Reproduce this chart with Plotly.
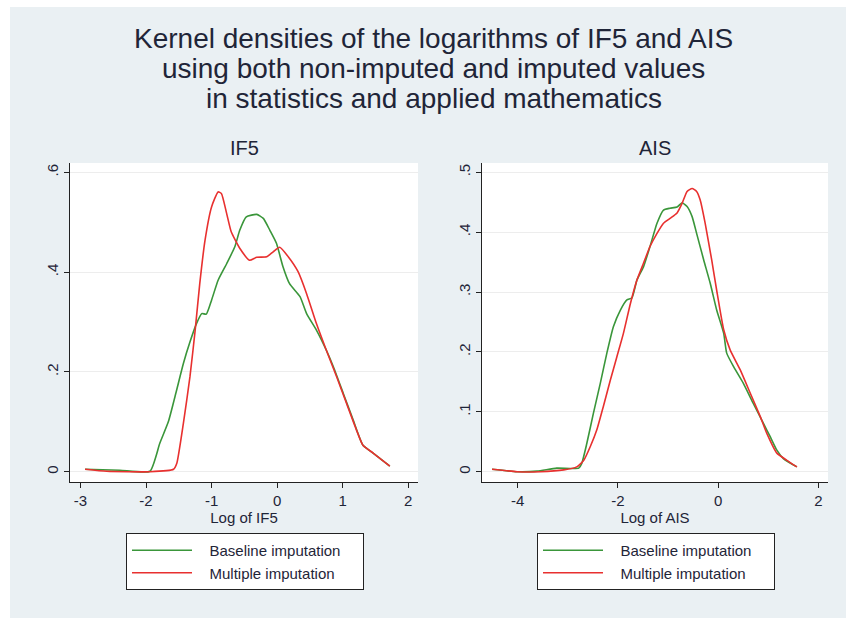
import plotly.graph_objects as go

W, H = 846, 618

# ---------------- data ----------------
if5_base_x = [-2.93, -2.40, -1.94, -1.79, -1.66, -1.54, -1.43, -1.33, -1.23, -1.15, -1.08, -1.00,
              -0.90, -0.77, -0.645, -0.57, -0.47, -0.31, -0.21, -0.11, -0.01, 0.09, 0.19, 0.35,
              0.45, 0.60, 0.75, 0.86, 1.01, 1.16, 1.31, 1.47, 1.72]
if5_base_y = [0.005, 0.003, 0.001, 0.057, 0.100, 0.160, 0.217, 0.260, 0.297, 0.317, 0.316, 0.344,
              0.384, 0.417, 0.451, 0.484, 0.511, 0.516, 0.508, 0.484, 0.458, 0.411, 0.377, 0.351,
              0.317, 0.284, 0.244, 0.210, 0.157, 0.104, 0.053, 0.037, 0.011]

if5_multi_x = [-2.93, -2.60, -1.94, -1.58, -1.53, -1.43, -1.33, -1.25, -1.18, -1.10, -1.00, -0.90,
               -0.85, -0.77, -0.70, -0.57, -0.42, -0.31, -0.16, -0.06, 0.04, 0.17, 0.32, 0.45,
               0.60, 0.75, 0.91, 1.06, 1.21, 1.31, 1.47, 1.72]
if5_multi_y = [0.005, 0.001, 0.000, 0.005, 0.017, 0.097, 0.190, 0.284, 0.377, 0.464, 0.531, 0.561,
               0.558, 0.518, 0.481, 0.448, 0.424, 0.430, 0.431, 0.441, 0.450, 0.431, 0.401, 0.357,
               0.297, 0.244, 0.190, 0.137, 0.084, 0.053, 0.037, 0.011]

ais_base_x = [-4.51, -4.01, -3.61, -3.22, -2.78, -2.72, -2.62, -2.49, -2.35, -2.22, -2.09, -1.95,
              -1.82, -1.72, -1.62, -1.49, -1.36, -1.22, -1.09, -0.96, -0.82, -0.72, -0.62, -0.52,
              -0.43, -0.29, -0.16, -0.03, 0.11, 0.17, 0.31, 0.50, 0.70, 0.90, 1.04, 1.17, 1.30, 1.57]
ais_base_y = [0.004, 0.000, 0.001, 0.006, 0.006, 0.014, 0.047, 0.097, 0.148, 0.198, 0.242, 0.270,
              0.287, 0.290, 0.320, 0.342, 0.376, 0.415, 0.437, 0.440, 0.442, 0.449, 0.443, 0.426,
              0.398, 0.354, 0.315, 0.270, 0.231, 0.198, 0.175, 0.148, 0.114, 0.081, 0.058, 0.036,
              0.022, 0.008]

ais_multi_x = [-4.51, -4.01, -3.55, -3.08, -2.82, -2.68, -2.55, -2.42, -2.29, -2.15, -2.02, -1.89,
               -1.75, -1.62, -1.49, -1.36, -1.22, -1.09, -0.96, -0.82, -0.72, -0.62, -0.52, -0.43,
               -0.36, -0.26, -0.13, -0.03, 0.11, 0.24, 0.44, 0.64, 0.84, 0.97, 1.17, 1.37, 1.57]
ais_multi_y = [0.004, 0.000, 0.000, 0.003, 0.008, 0.019, 0.042, 0.070, 0.109, 0.153, 0.192, 0.231,
               0.281, 0.320, 0.348, 0.376, 0.398, 0.415, 0.423, 0.432, 0.448, 0.468, 0.473, 0.468,
               0.454, 0.415, 0.354, 0.303, 0.237, 0.203, 0.170, 0.131, 0.092, 0.064, 0.031, 0.019,
               0.008]

if5_xticks = [-3, -2, -1, 0, 1, 2]
if5_xtext = ["-3", "-2", "-1", "0", "1", "2"]
if5_yticks = [0, 0.2, 0.4, 0.6]
if5_ytext = ["0", ".2", ".4", ".6"]
ais_xticks = [-4, -2, 0, 2]
ais_xtext = ["-4", "-2", "0", "2"]
ais_yticks = [0, 0.1, 0.2, 0.3, 0.4, 0.5]
ais_ytext = ["0", ".1", ".2", ".3", ".4", ".5"]

series_names = ["Baseline imputation", "Multiple imputation"]
title_lines = ["Kernel densities of the logarithms of IF5 and AIS",
               "using both non-imputed and imputed values",
               "in statistics and applied mathematics"]
panel_titles = ["IF5", "AIS"]
axis_titles = ["Log of IF5", "Log of AIS"]

# ---------------- style ----------------
GREEN = "#3a963a"
RED = "#e8302f"
BG = "#eaf0f3"
TXT = "#1f2538"
FONT = "Liberation Sans, Arial, sans-serif"


def px_x(p):
    return p / W


def px_y(p):
    return 1 - p / H


fig = go.Figure()

lead = "\u00a0" * 3
pad = "\u00a0" * 4
line_common = dict(width=1.6, shape="spline", smoothing=0.5)
fig.add_trace(go.Scatter(x=if5_base_x, y=if5_base_y, mode="lines", name=lead + series_names[0] + pad,
                         line=dict(color=GREEN, **line_common), xaxis="x", yaxis="y", legend="legend"))
fig.add_trace(go.Scatter(x=if5_multi_x, y=if5_multi_y, mode="lines", name=lead + series_names[1] + pad,
                         line=dict(color=RED, **line_common), xaxis="x", yaxis="y", legend="legend"))
fig.add_trace(go.Scatter(x=ais_base_x, y=ais_base_y, mode="lines", name=lead + series_names[0] + pad,
                         line=dict(color=GREEN, **line_common), xaxis="x2", yaxis="y2", legend="legend2"))
fig.add_trace(go.Scatter(x=ais_multi_x, y=ais_multi_y, mode="lines", name=lead + series_names[1] + pad,
                         line=dict(color=RED, **line_common), xaxis="x2", yaxis="y2", legend="legend2"))

axis_common = dict(showline=True, linecolor="#222222", linewidth=1.4, ticks="outside",
                   ticklen=5, tickcolor="#222222", tickfont=dict(size=15, color=TXT, family=FONT),
                   zeroline=False)

ydom = [px_y(482), px_y(163)]
annotations = []
for t, yc in zip(title_lines, [39, 68.5, 98]):
    annotations.append(dict(text=t, x=px_x(434), y=px_y(yc), xref="paper", yref="paper",
                            showarrow=False, xanchor="center", yanchor="middle",
                            font=dict(size=28, color=TXT, family=FONT)))
for t, xc in zip(panel_titles, [245, 655]):
    annotations.append(dict(text=t, x=px_x(xc), y=px_y(148), xref="paper", yref="paper",
                            showarrow=False, xanchor="center", yanchor="middle",
                            font=dict(size=20, color=TXT, family=FONT)))

legend_common = dict(xanchor="left", yanchor="top", bgcolor="white", bordercolor="#222222",
                     borderwidth=1, font=dict(size=15, color=TXT, family=FONT),
                     itemwidth=60, tracegroupgap=0)

fig.update_layout(
    width=W, height=H,
    margin=dict(l=0, r=0, t=0, b=0),
    paper_bgcolor=BG, plot_bgcolor="white",
    font=dict(family=FONT, color=TXT),
    showlegend=True,
    xaxis=dict(domain=[px_x(70), px_x(418)], range=[-3.16, 2.15], tickvals=if5_xticks,
               ticktext=if5_xtext, showgrid=False,
               title=dict(text=axis_titles[0], font=dict(size=15, color=TXT), standoff=0),
               anchor="y", **axis_common),
    yaxis=dict(domain=ydom, range=[-0.0206, 0.619], tickvals=if5_yticks, ticktext=if5_ytext,
               tickangle=-90, showgrid=True, gridcolor="#ededed", gridwidth=1, anchor="x",
               **axis_common),
    xaxis2=dict(domain=[px_x(482), px_x(828)], range=[-4.71, 2.19], tickvals=ais_xticks,
                ticktext=ais_xtext, showgrid=False,
                title=dict(text=axis_titles[1], font=dict(size=15, color=TXT), standoff=0),
                anchor="y2", **axis_common),
    yaxis2=dict(domain=ydom, range=[-0.0172, 0.5155], tickvals=ais_yticks, ticktext=ais_ytext,
                tickangle=-90, showgrid=True, gridcolor="#ededed", gridwidth=1, anchor="x2",
                **axis_common),
    legend=dict(x=px_x(126), y=px_y(533), **legend_common),
    legend2=dict(x=px_x(537), y=px_y(533), **legend_common),
    annotations=annotations,
    shapes=[
        dict(type="rect", xref="paper", yref="paper", x0=0, x1=px_x(10), y0=0, y1=1,
             fillcolor="white", line=dict(width=0), layer="below"),
        dict(type="rect", xref="paper", yref="paper", x0=0, x1=1, y0=px_y(7), y1=1,
             fillcolor="white", line=dict(width=0), layer="below"),
    ],
)

fig.write_html("out.html", config={"displayModeBar": False},
               post_script="document.body.style.margin='0';document.body.style.overflow='hidden';")
